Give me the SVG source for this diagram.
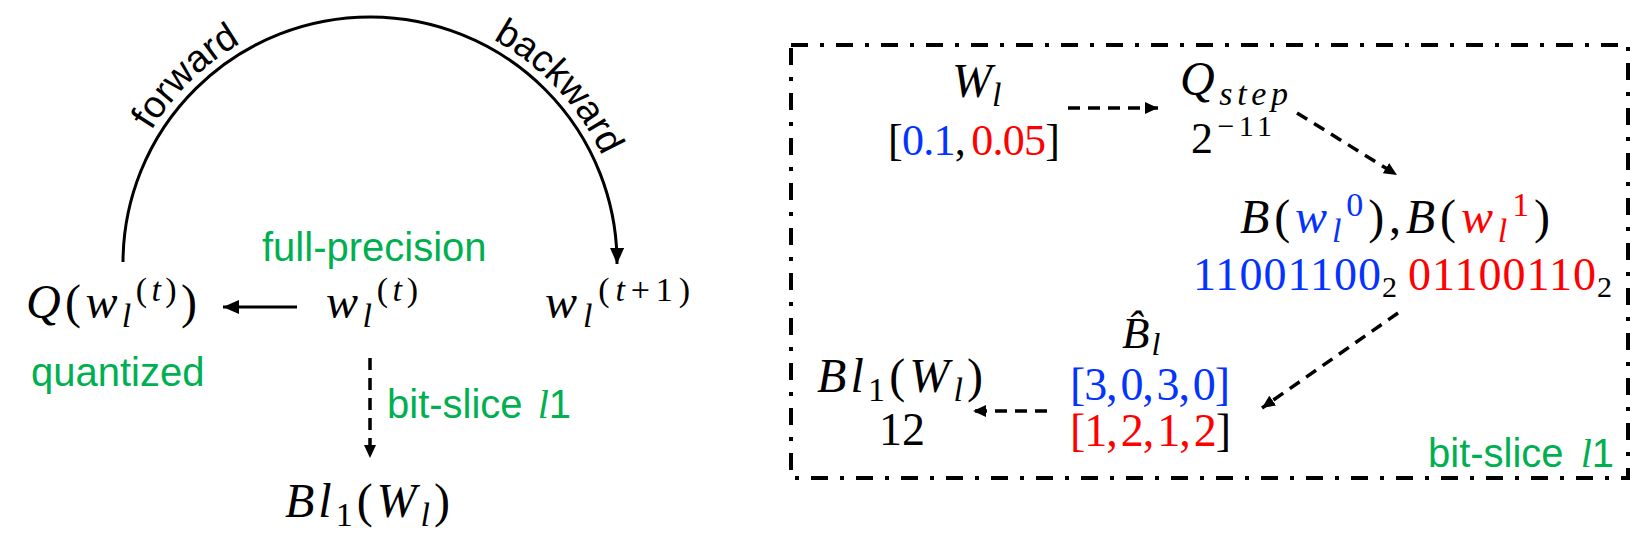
<svg xmlns="http://www.w3.org/2000/svg" width="1641" height="556" viewBox="0 0 1641 556">
<style>
.m{font-family:"Liberation Serif",serif;font-size:48px;fill:#000}
.i{font-style:italic}
.s{font-size:34px}
.n{font-family:"Liberation Serif",serif;font-size:46px;fill:#000}
.g{font-family:"Liberation Sans",Arial,sans-serif;font-size:40px;fill:#00B050}
.k{font-family:"Liberation Sans",Arial,sans-serif;font-size:38px;fill:#000}
.b{fill:#0433FF}
.r{fill:#FF0000}
.solid{fill:none;stroke:#000;stroke-width:3}
.dash{fill:none;stroke:#000;stroke-width:3.5;stroke-dasharray:12 8}
</style>
<defs>
<marker id="ah" markerUnits="userSpaceOnUse" markerWidth="18" markerHeight="16" refX="16" refY="7" orient="auto"><path d="M0,0 L16,7 L0,14 z" fill="#000"/></marker>
<marker id="as" markerUnits="userSpaceOnUse" markerWidth="14" markerHeight="14" refX="13" refY="6" orient="auto"><path d="M0,0 L13,6 L0,12 z" fill="#000"/></marker>
<path id="arcT" d="M114,264 A256,256 0 0 1 626,264"/>
</defs>

<g id="connectors">
<path class="solid" d="M123,262 A247,246 0 0 1 617,264" marker-end="url(#ah)"/>
<line class="solid" x1="297" y1="307" x2="223" y2="307" marker-end="url(#ah)"/>
<line class="dash" x1="370" y1="358" x2="370" y2="458" stroke-width="3" stroke-dasharray="12 7" marker-end="url(#as)"/>
<line class="dash" x1="1068" y1="108" x2="1158" y2="108" marker-end="url(#as)"/>
<line class="dash" x1="1297" y1="113" x2="1397" y2="175" marker-end="url(#as)"/>
<line class="dash" x1="1398" y1="313" x2="1262" y2="408" marker-end="url(#as)"/>
<line class="dash" x1="1047" y1="411" x2="973" y2="411" marker-end="url(#as)"/>
</g>

<g id="arc-labels">
<text class="k"><textPath href="#arcT" startOffset="140">forward</textPath></text>
<text class="k"><textPath href="#arcT" startOffset="530">backward</textPath></text>
</g>

<g id="node-full-precision">
<text class="g" x="262" y="261">full-precision</text>
<text class="m" x="326" y="318" textLength="92" lengthAdjust="spacing"><tspan class="i">w</tspan><tspan class="i s" dy="9">l</tspan><tspan class="s" dy="-26">(</tspan><tspan class="i s">t</tspan><tspan class="s">)</tspan></text>
</g>

<g id="node-quantized">
<text class="m" x="26" y="318" textLength="171" lengthAdjust="spacing"><tspan class="i">Q</tspan><tspan>(</tspan><tspan class="i">w</tspan><tspan class="i s" dy="9">l</tspan><tspan class="s" dy="-26">(</tspan><tspan class="i s">t</tspan><tspan class="s">)</tspan><tspan dy="17">)</tspan></text>
<text class="g" x="31" y="386">quantized</text>
</g>

<g id="node-next">
<text class="m" x="545" y="318" textLength="145" lengthAdjust="spacing"><tspan class="i">w</tspan><tspan class="i s" dy="9">l</tspan><tspan class="s" dy="-26">(</tspan><tspan class="i s">t</tspan><tspan class="s">+1)</tspan></text>
</g>

<g id="node-bitslice-left">
<text class="g" x="387" y="418">bit-slice <tspan font-family="Liberation Serif,serif" font-style="italic" dx="4">l</tspan>1</text>
<text class="m" x="285" y="517" textLength="165" lengthAdjust="spacing"><tspan class="i">Bl</tspan><tspan class="s" dy="9">1</tspan><tspan dy="-9">(</tspan><tspan class="i">W</tspan><tspan class="i s" dy="9">l</tspan><tspan dy="-9">)</tspan></text>
</g>

<g id="box">
<rect x="791" y="45" width="837" height="433" fill="none" stroke="#000" stroke-width="4" stroke-dasharray="17 12 4 12"/>
<text class="g" x="1428" y="467">bit-slice <tspan font-family="Liberation Serif,serif" font-style="italic" dx="6">l</tspan>1</text>
</g>

<g id="node-W">
<text class="m" x="952" y="97"><tspan class="i">W</tspan><tspan class="i s" dy="9">l</tspan></text>
<text class="n" x="888" y="155" textLength="172" lengthAdjust="spacing" style="font-size:44px">[<tspan class="b">0.1</tspan>,<tspan class="r" dx="6">0.05</tspan>]</text>
</g>

<g id="node-Qstep">
<text class="m" x="1180" y="95" textLength="108" lengthAdjust="spacing"><tspan class="i">Q</tspan><tspan class="i s" dy="10">step</tspan></text>
<text class="n" x="1191" y="153" textLength="81" lengthAdjust="spacing" style="font-size:44px">2<tspan style="font-size:30px" dy="-17">−11</tspan></text>
</g>

<g id="node-B">
<text class="m" x="1240" y="233" textLength="310" lengthAdjust="spacing"><tspan class="i">B</tspan>(<tspan class="i b">w</tspan><tspan class="i s b" dy="9">l</tspan><tspan class="s b" dy="-26">0</tspan><tspan dy="17">),</tspan><tspan class="i">B</tspan>(<tspan class="i r">w</tspan><tspan class="i s r" dy="9">l</tspan><tspan class="s r" dy="-26">1</tspan><tspan dy="17">)</tspan></text>
<text class="n" x="1193" y="290"><tspan class="b" textLength="188" lengthAdjust="spacing">11001100</tspan><tspan style="font-size:30px" dy="7">2</tspan></text>
<text class="n" x="1408" y="290"><tspan class="r" textLength="188" lengthAdjust="spacing">01100110</tspan><tspan style="font-size:30px" dy="7">2</tspan></text>
</g>

<g id="node-Bhat">
<text class="m i" x="1122" y="348" style="font-size:45px">B&#x302;<tspan style="font-size:32px" dx="2" dy="7">l</tspan></text>
<text class="n b" x="1070" y="400" textLength="160" lengthAdjust="spacing">[3,<tspan dx="4">0,</tspan><tspan dx="4">3,</tspan><tspan dx="4">0]</tspan></text>
<text class="n" x="1070" y="446" textLength="161" lengthAdjust="spacing"><tspan class="r">[1,</tspan><tspan class="r" dx="4">2,</tspan><tspan class="r" dx="4">1,</tspan><tspan class="r" dx="4">2</tspan>]</text>
</g>

<g id="node-Bl1-box">
<text class="m" x="817" y="392" textLength="166" lengthAdjust="spacing"><tspan class="i">Bl</tspan><tspan class="s" dy="9">1</tspan><tspan dy="-9">(</tspan><tspan class="i">W</tspan><tspan class="i s" dy="9">l</tspan><tspan dy="-9">)</tspan></text>
<text class="n" x="879" y="445">12</text>
</g>
</svg>
